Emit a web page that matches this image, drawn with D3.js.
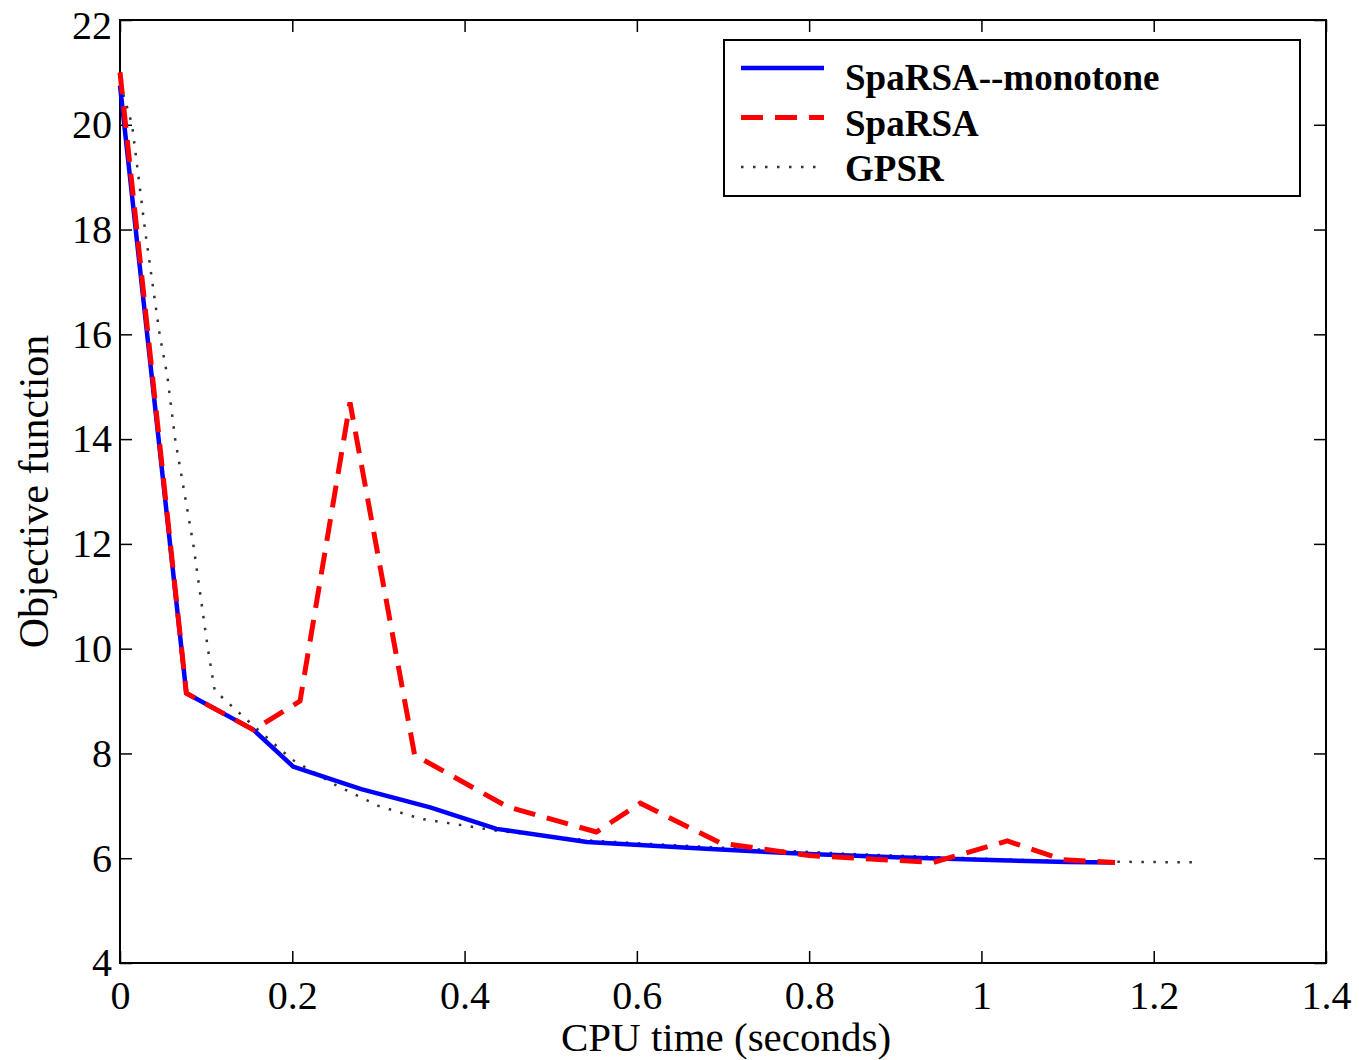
<!DOCTYPE html>
<meta charset="utf-8">
<script src="https://d3js.org/d3.v7.min.js"></script>
<style>
  body { margin: 0; background: #fff; }
  text { font-family: "Liberation Serif", "Times New Roman", serif; }
</style>
<body>
<div id="chart"></div>
<script>

// data
var monoX = [0, 0.077, 0.155, 0.201, 0.28, 0.36, 0.437, 0.542, 0.68, 0.8, 0.9, 1.0, 1.1, 1.155]
var monoY = [20.75, 9.15, 8.45, 7.75, 7.32, 6.97, 6.56, 6.31, 6.18, 6.08, 6.02, 5.97, 5.93, 5.92]

var spaX = [0, 0.077, 0.155, 0.209, 0.267, 0.342, 0.45, 0.553, 0.604, 0.697, 0.8, 0.944, 1.03, 1.095, 1.155]
var spaY = [21.0, 9.15, 8.45, 9.0, 14.7, 7.97, 6.98, 6.5, 7.05, 6.29, 6.05, 5.92, 6.33, 5.97, 5.92]

var gpsrX = [0, 0.014, 0.029, 0.046, 0.055, 0.064, 0.085, 0.102, 0.11, 0.15, 0.2, 0.25, 0.3, 0.35, 0.44, 0.55, 0.7, 0.85, 1.0, 1.1, 1.25]
var gpsrY = [20.8, 20.0, 18.0, 16.0, 15.2, 14.0, 12.0, 10.0, 9.2, 8.6, 7.88, 7.4, 7.0, 6.75, 6.52, 6.33, 6.2, 6.08, 5.99, 5.94, 5.92]

var xTicks = [0, 0.2, 0.4, 0.6, 0.8, 1, 1.2, 1.4]
var yTicks = [4, 6, 8, 10, 12, 14, 16, 18, 20, 22]

var names = ["SpaRSA--monotone", "SpaRSA", "GPSR"]

var width = 1359, height = 1060
var margin = {left: 120, right: 33, top: 20, bottom: 97}

var svg = d3.select("#chart").append("svg")
  .attr("width", width)
  .attr("height", height)

var x = d3.scaleLinear().domain([0, 1.4]).range([margin.left, width - margin.right])
var y = d3.scaleLinear().domain([4, 22]).range([height - margin.bottom, margin.top])

var tickLen = 12

// ticks inward on all four sides, matlab style
svg.append("g")
  .attr("transform", "translate(0," + y(4) + ")")
  .call(d3.axisBottom(x).tickValues(xTicks).tickSizeInner(-tickLen).tickSizeOuter(0).tickPadding(18).tickFormat(d3.format("")))
svg.append("g")
  .attr("transform", "translate(0," + y(22) + ")")
  .call(d3.axisTop(x).tickValues(xTicks).tickSizeInner(-tickLen).tickSizeOuter(0).tickFormat(""))
var yAxis = svg.append("g")
  .attr("transform", "translate(" + x(0) + ",0)")
  .call(d3.axisLeft(y).tickValues(yTicks).tickSizeInner(-tickLen).tickSizeOuter(0).tickPadding(8))
svg.append("g")
  .attr("transform", "translate(" + x(1.4) + ",0)")
  .call(d3.axisRight(y).tickValues(yTicks).tickSizeInner(-tickLen).tickSizeOuter(0).tickFormat(""))

svg.selectAll(".domain").remove()
svg.selectAll(".tick line").attr("stroke", "#000").attr("stroke-width", 1.5)
svg.selectAll(".tick text")
  .style("font-family", "'Liberation Serif', serif")
  .style("font-size", "40px")
  .attr("fill", "#000")

// top label sits right at the edge, nudge it in a bit
yAxis.selectAll(".tick text").filter(function(d) { return d === 22 }).attr("dy", "0.45em")

// frame
svg.append("rect")
  .attr("x", x(0)).attr("y", y(22))
  .attr("width", x(1.4) - x(0)).attr("height", y(4) - y(22))
  .attr("fill", "none").attr("stroke", "#000").attr("stroke-width", 2)

var line = d3.line()
  .x(function(d) { return x(d[0]) })
  .y(function(d) { return y(d[1]) })

var gpsr = d3.zip(gpsrX, gpsrY)
var mono = d3.zip(monoX, monoY)
var spa = d3.zip(spaX, spaY)

svg.append("path").datum(gpsr).attr("d", line)
  .attr("fill", "none").attr("stroke", "#333").attr("stroke-width", 2.5)
  .attr("stroke-dasharray", "2.5,9.5")
svg.append("path").datum(mono).attr("d", line)
  .attr("fill", "none").attr("stroke", "#0000ff").attr("stroke-width", 4.5)
  .attr("stroke-linejoin", "round")
svg.append("path").datum(spa).attr("d", line)
  .attr("fill", "none").attr("stroke", "#ff0000").attr("stroke-width", 5)
  .attr("stroke-dasharray", "22,12")

// axis titles
svg.append("text")
  .attr("x", (x(0) + x(1.4)) / 2 + 3).attr("y", 1051)
  .attr("text-anchor", "middle")
  .style("font-size", "41px")
  .text("CPU time (seconds)")
svg.append("text")
  .attr("transform", "translate(48," + ((y(4) + y(22)) / 2) + ") rotate(-90)")
  .attr("text-anchor", "middle")
  .style("font-size", "42px")
  .text("Objective function")

// legend
var leg = svg.append("g")
leg.append("rect")
  .attr("x", 724).attr("y", 40).attr("width", 576).attr("height", 156)
  .attr("fill", "#fff").attr("stroke", "#000").attr("stroke-width", 2)

var styles = [
  {color: "#0000ff", dash: null, w: 4.5},
  {color: "#ff0000", dash: "22,12", w: 5},
  {color: "#333", dash: "2.5,9.5", w: 2.5}
]
names.forEach(function(n, i) {
  var yy = 68 + i * 49.5
  leg.append("line")
    .attr("x1", 741).attr("x2", 824).attr("y1", yy).attr("y2", yy)
    .attr("stroke", styles[i].color).attr("stroke-width", styles[i].w)
    .attr("stroke-dasharray", styles[i].dash)
  leg.append("text")
    .attr("x", 845).attr("y", 90 + i * 45.5)
    .style("font-size", "37px").style("font-weight", "bold")
    .text(n)
})

</script>
</body>
